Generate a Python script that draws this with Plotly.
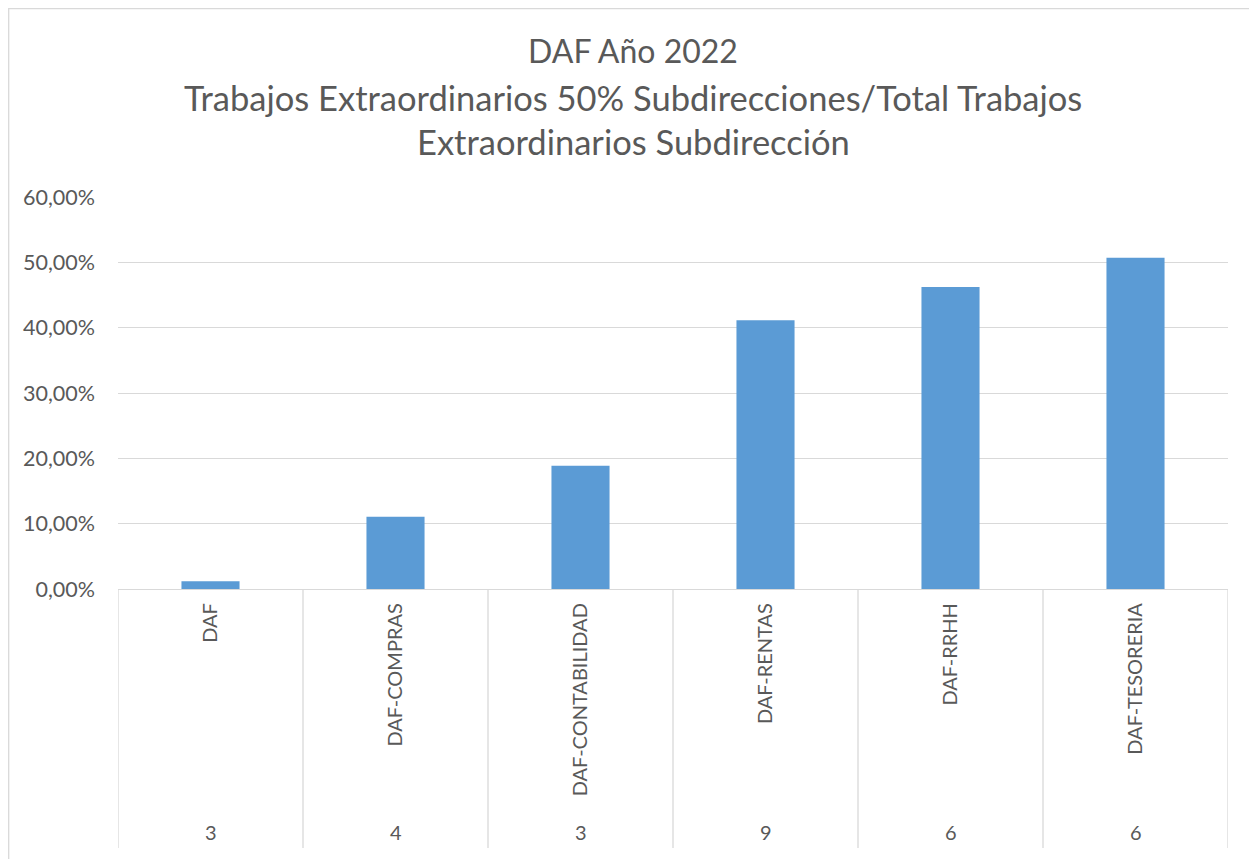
import plotly.graph_objects as go

categories = ["DAF", "DAF-COMPRAS", "DAF-CONTABILIDAD", "DAF-RENTAS", "DAF-RRHH", "DAF-TESORERIA"]
counts = ["3", "4", "3", "9", "6", "6"]
shares = [0.0117, 0.1107, 0.1888, 0.4112, 0.4622, 0.5071]

title_lines = [
    "DAF Año 2022",
    "Trabajos Extraordinarios 50% Subdirecciones/Total Trabajos",
    "Extraordinarios Subdirección",
]

FONT = "Lato"
GREY = "#595959"
LINE = "#d9d9d9"

# page body adds an 8px offset, so the figure is laid out in its own pixel frame
L, T, W, H = 110, 189, 1110, 392


def px_x(x):
    return (x - L) / W


def px_y(y):
    return (T + H - y) / H


fig = go.Figure(
    go.Bar(x=list(range(len(categories))), y=shares, marker=dict(color="#5b9bd5", line=dict(width=0)))
)

# title, one annotation per line (Excel spacing)
for text, ypx, size in zip(title_lines, [42, 90, 134], [32, 34.5, 34.5]):
    fig.add_annotation(
        text=text, xref="paper", yref="paper", x=px_x(625), y=px_y(ypx),
        showarrow=False, font=dict(family=FONT, size=size, color=GREY), xanchor="center", yanchor="middle",
    )

# second level of the category axis
for i, c in enumerate(counts):
    fig.add_annotation(
        text=c, x=i, xref="x", yref="paper", y=px_y(824), showarrow=False,
        font=dict(family=FONT, size=20, color=GREY), yanchor="middle",
    )

# separators between categories
for i in range(len(categories) + 1):
    fig.add_shape(
        type="line", xref="x", yref="paper", x0=i - 0.5, x1=i - 0.5, y0=0, y1=px_y(840),
        line=dict(color=LINE, width=1.3),
    )

# chart frame
fig.add_shape(
    type="rect", xref="paper", yref="paper", x0=px_x(0.7), x1=px_x(1248),
    y0=px_y(900), y1=px_y(0.7), line=dict(color=LINE, width=1.3), layer="below",
)

fig.update_layout(
    width=1257, height=859,
    margin=dict(l=L, r=1257 - L - W, t=T, b=859 - T - H),
    paper_bgcolor="white", plot_bgcolor="white",
    separators=",.",
    bargap=0.686,
    showlegend=False,
    font=dict(family=FONT, size=20, color=GREY),
    xaxis=dict(
        tickmode="array", tickvals=list(range(len(categories))), ticktext=categories,
        tickangle=-90, ticks="", range=[-0.5, len(categories) - 0.5],
        showgrid=False, showline=True, linecolor=LINE, linewidth=1.3,
        ticklabelstandoff=5, tickfont=dict(family=FONT, size=20, color=GREY),
    ),
    yaxis=dict(
        range=[0, 0.6], dtick=0.1, tickformat=".2%",
        showgrid=True, gridcolor=LINE, gridwidth=1.3, zeroline=False,
        ticks="", ticklabelstandoff=22, tickfont=dict(family=FONT, size=21.5, color=GREY),
    ),
)

fig.write_html("out.html")
